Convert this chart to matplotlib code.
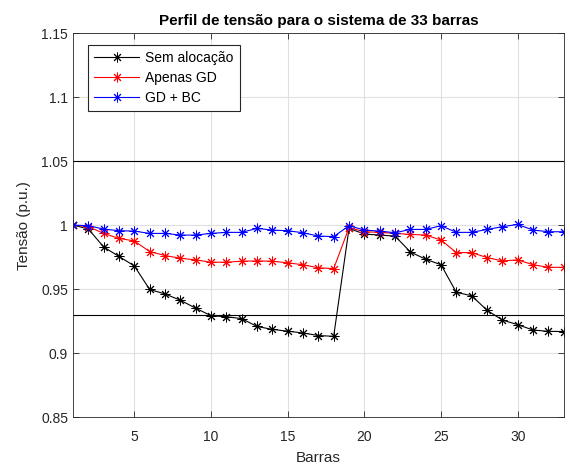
import matplotlib
matplotlib.use("Agg")
import matplotlib.pyplot as plt
import numpy as np

plt.rcParams['font.family'] = ['Liberation Sans', 'DejaVu Sans']

barras = list(range(1, 34))
sem_alocacao = [1.0, 0.997, 0.9829, 0.9755, 0.9681, 0.9497, 0.9462, 0.9413, 0.9351,
                0.9292, 0.9284, 0.9269, 0.9208, 0.9185, 0.9171, 0.9157, 0.9137, 0.9131,
                0.9974, 0.9930, 0.9922, 0.9914, 0.9790, 0.9733, 0.9690, 0.9474, 0.9448,
                0.9334, 0.9258, 0.9222, 0.9180, 0.9170, 0.9168]
apenas_gd = [1.0, 0.9988, 0.9935, 0.9896, 0.9876, 0.9793, 0.9762, 0.9741, 0.9728,
             0.9710, 0.9710, 0.9718, 0.9720, 0.9718, 0.9705, 0.9690, 0.9666, 0.9660,
             0.9980, 0.9948, 0.9943, 0.9935, 0.9927, 0.9922, 0.9883, 0.9785, 0.9785,
             0.9746, 0.9720, 0.9728, 0.9690, 0.9670, 0.9670]
gd_bc = [1.0, 0.9995, 0.9969, 0.9956, 0.9953, 0.9935, 0.9935, 0.9922, 0.9922,
         0.9935, 0.9943, 0.9943, 0.9974, 0.9961, 0.9956, 0.9940, 0.9914, 0.9910,
         0.9995, 0.9961, 0.9953, 0.9940, 0.9966, 0.9966, 0.9995, 0.9943, 0.9943,
         0.9966, 0.9987, 1.0005, 0.9961, 0.9948, 0.9948]
limites = [1.05, 0.93]
xticks = [5, 10, 15, 20, 25, 30]
yticks = [0.85, 0.9, 0.95, 1.0, 1.05, 1.1, 1.15]
ytick_labels = ['0.85', '0.9', '0.95', '1', '1.05', '1.1', '1.15']

fig = plt.figure(figsize=(5.7, 4.66), dpi=100)
ax = fig.add_axes([0.128, 0.105, 0.861, 0.824])

mk = (8, 2, 0)
ax.plot(barras, sem_alocacao, color='black', lw=0.8, marker=mk, ms=7, mew=0.7, label='Sem alocação')
ax.plot(barras, apenas_gd, color='red', lw=0.8, marker=mk, ms=7, mew=0.7, label='Apenas GD')
ax.plot(barras, gd_bc, color='blue', lw=0.8, marker=mk, ms=7, mew=0.7, label='GD + BC')
for v in limites:
    ax.axhline(v, color='black', lw=0.8)

ax.set_xlim(1, 33)
ax.set_ylim(0.85, 1.15)
ax.set_xticks(xticks)
ax.set_yticks(yticks)
ax.set_yticklabels(ytick_labels)
ax.tick_params(direction='in', labelsize=10, length=4, width=0.6, top=True, right=True,
               colors='#262626', labelcolor='#262626')
ax.tick_params(axis='x', pad=9)
ax.grid(True, color='#e0e0e0', lw=0.8)
ax.set_axisbelow(True)
for s in ax.spines.values():
    s.set_linewidth(0.6)
    s.set_color('#262626')
ax.set_xlabel('Barras', fontsize=11, labelpad=5, color='#262626')
ax.set_ylabel('Tensão (p.u.)', fontsize=11, labelpad=7, color='#262626')
ax.set_title('Perfil de tensão para o sistema de 33 barras', fontsize=11, fontweight='bold', pad=6)
leg = ax.legend(loc='upper left', bbox_to_anchor=(0.031, 0.969), borderaxespad=0, fontsize=10,
                fancybox=False, edgecolor='#262626', framealpha=1, borderpad=0.45,
                handlelength=3.2, handletextpad=0.45, labelspacing=0.42)
leg.get_frame().set_linewidth(0.8)

fig.savefig('out.png', dpi=100)
